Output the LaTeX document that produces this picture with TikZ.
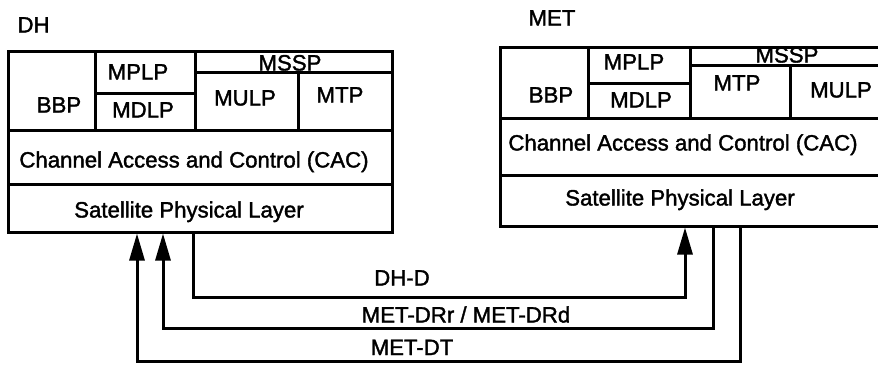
\documentclass[tikz,border=0pt]{standalone}
\usepackage{fontspec}
\setmainfont[FakeBold=1.6,AutoFakeBold=1.6]{Liberation Sans}
\usetikzlibrary{arrows.meta}
\begin{document}
\begin{tikzpicture}[x=1pt,y=-1pt, line width=3pt,
  cell/.style={draw, line width=3pt, inner sep=0pt, rectangle},
  txt/.style={anchor=base, inner sep=0pt, font=\fontsize{22.2}{25}\selectfont\bfseries},
  ttl/.style={anchor=base west, inner sep=0pt, font=\fontsize{22.2}{25}\selectfont\bfseries},
  conn/.style={draw, line width=3pt, line join=miter},
  arr/.style={conn, -{Triangle[length=27pt,width=15pt]}}]
\clip (0,0) rectangle (878,368);
\fill[white] (0,0) rectangle (878,368);

% ---------- DH stack ----------
\node[ttl] (dhlbl) at (16,32.5) {DH};
\draw (8,51) rectangle (95,130);
\draw (95,51) rectangle (195,93);
\draw (95,93) rectangle (195,130);
\draw (195,51) rectangle (392,72);
\draw (195,72) rectangle (298,130);
\draw (298,72) rectangle (392,130);
\draw (8,130) rectangle (392,184);
\node[cell, minimum width=384pt, minimum height=48pt] (dhspl) at (200,208) {};

\node[txt] (dhbbp)  at (59,112.5)  {BBP};
\node[txt] (dhmplp) at (138,79.5)  {MPLP};
\node[txt] (dhmdlp) at (143,117.5) {MDLP};
\node[txt] (dhmssp) at (290,70.5)  {MSSP};
\node[txt] (dhmulp) at (245,105.5) {MULP};
\node[txt] (dhmtp)  at (340,102.5) {MTP};
\node[txt] (dhcac)  at (194,167.5) {Channel Access and Control (CAC)};
\node[txt] (dhspltxt) at (189,217.5) {Satellite Physical Layer};

% ---------- MET stack ----------
\node[ttl] (metlbl) at (527,25.5) {MET};
\draw (500,47) rectangle (588,118);
\draw (588,47) rectangle (690,83);
\draw (588,83) rectangle (690,118);
\draw (690,47) rectangle (895,65);
\draw (690,65) rectangle (790,118);
\draw (790,65) rectangle (895,118);
\draw (500,118) rectangle (895,175);
\node[cell, minimum width=395pt, minimum height=51pt] (metspl) at (697.5,200.5) {};

\node[txt] (metbbp)  at (551,102.5) {BBP};
\node[txt] (metmplp) at (634,69.5)  {MPLP};
\node[txt] (metmdlp) at (641,107.5) {MDLP};
\node[txt] (metmssp) at (787,62.5)  {MSSP};
\node[txt] (metmtp)  at (737,90.5)  {MTP};
\node[txt] (metmulp) at (841,97.5)  {MULP};
\node[txt] (metcac)  at (683,150.5) {Channel Access and Control (CAC)};
\node[txt] (metspltxt) at (680,205.5) {Satellite Physical Layer};

% ---------- connectors ----------
\coordinate (a1) at (193,297);
\coordinate (a2) at (685,297);
\coordinate (b1) at (713,328);
\coordinate (b2) at (163,328);
\coordinate (c1) at (740,361);
\coordinate (c2) at (137,361);

\draw[arr] (a1 |- dhspl.south) -- (a1) -- (a2) -- (a2 |- metspl.south);
\draw[arr] (b1 |- metspl.south) -- (b1) -- (b2) -- (b2 |- dhspl.south);
\draw[arr] (c1 |- metspl.south) -- (c1) -- (c2) -- (c2 |- dhspl.south);

\node[txt] (dhd)  at (402,285.5) {DH-D};
\node[txt] (metdr) at (466,322.5) {MET-DRr / MET-DRd};
\node[txt] (metdt) at (412,355) {MET-DT};
\end{tikzpicture}
\end{document}
